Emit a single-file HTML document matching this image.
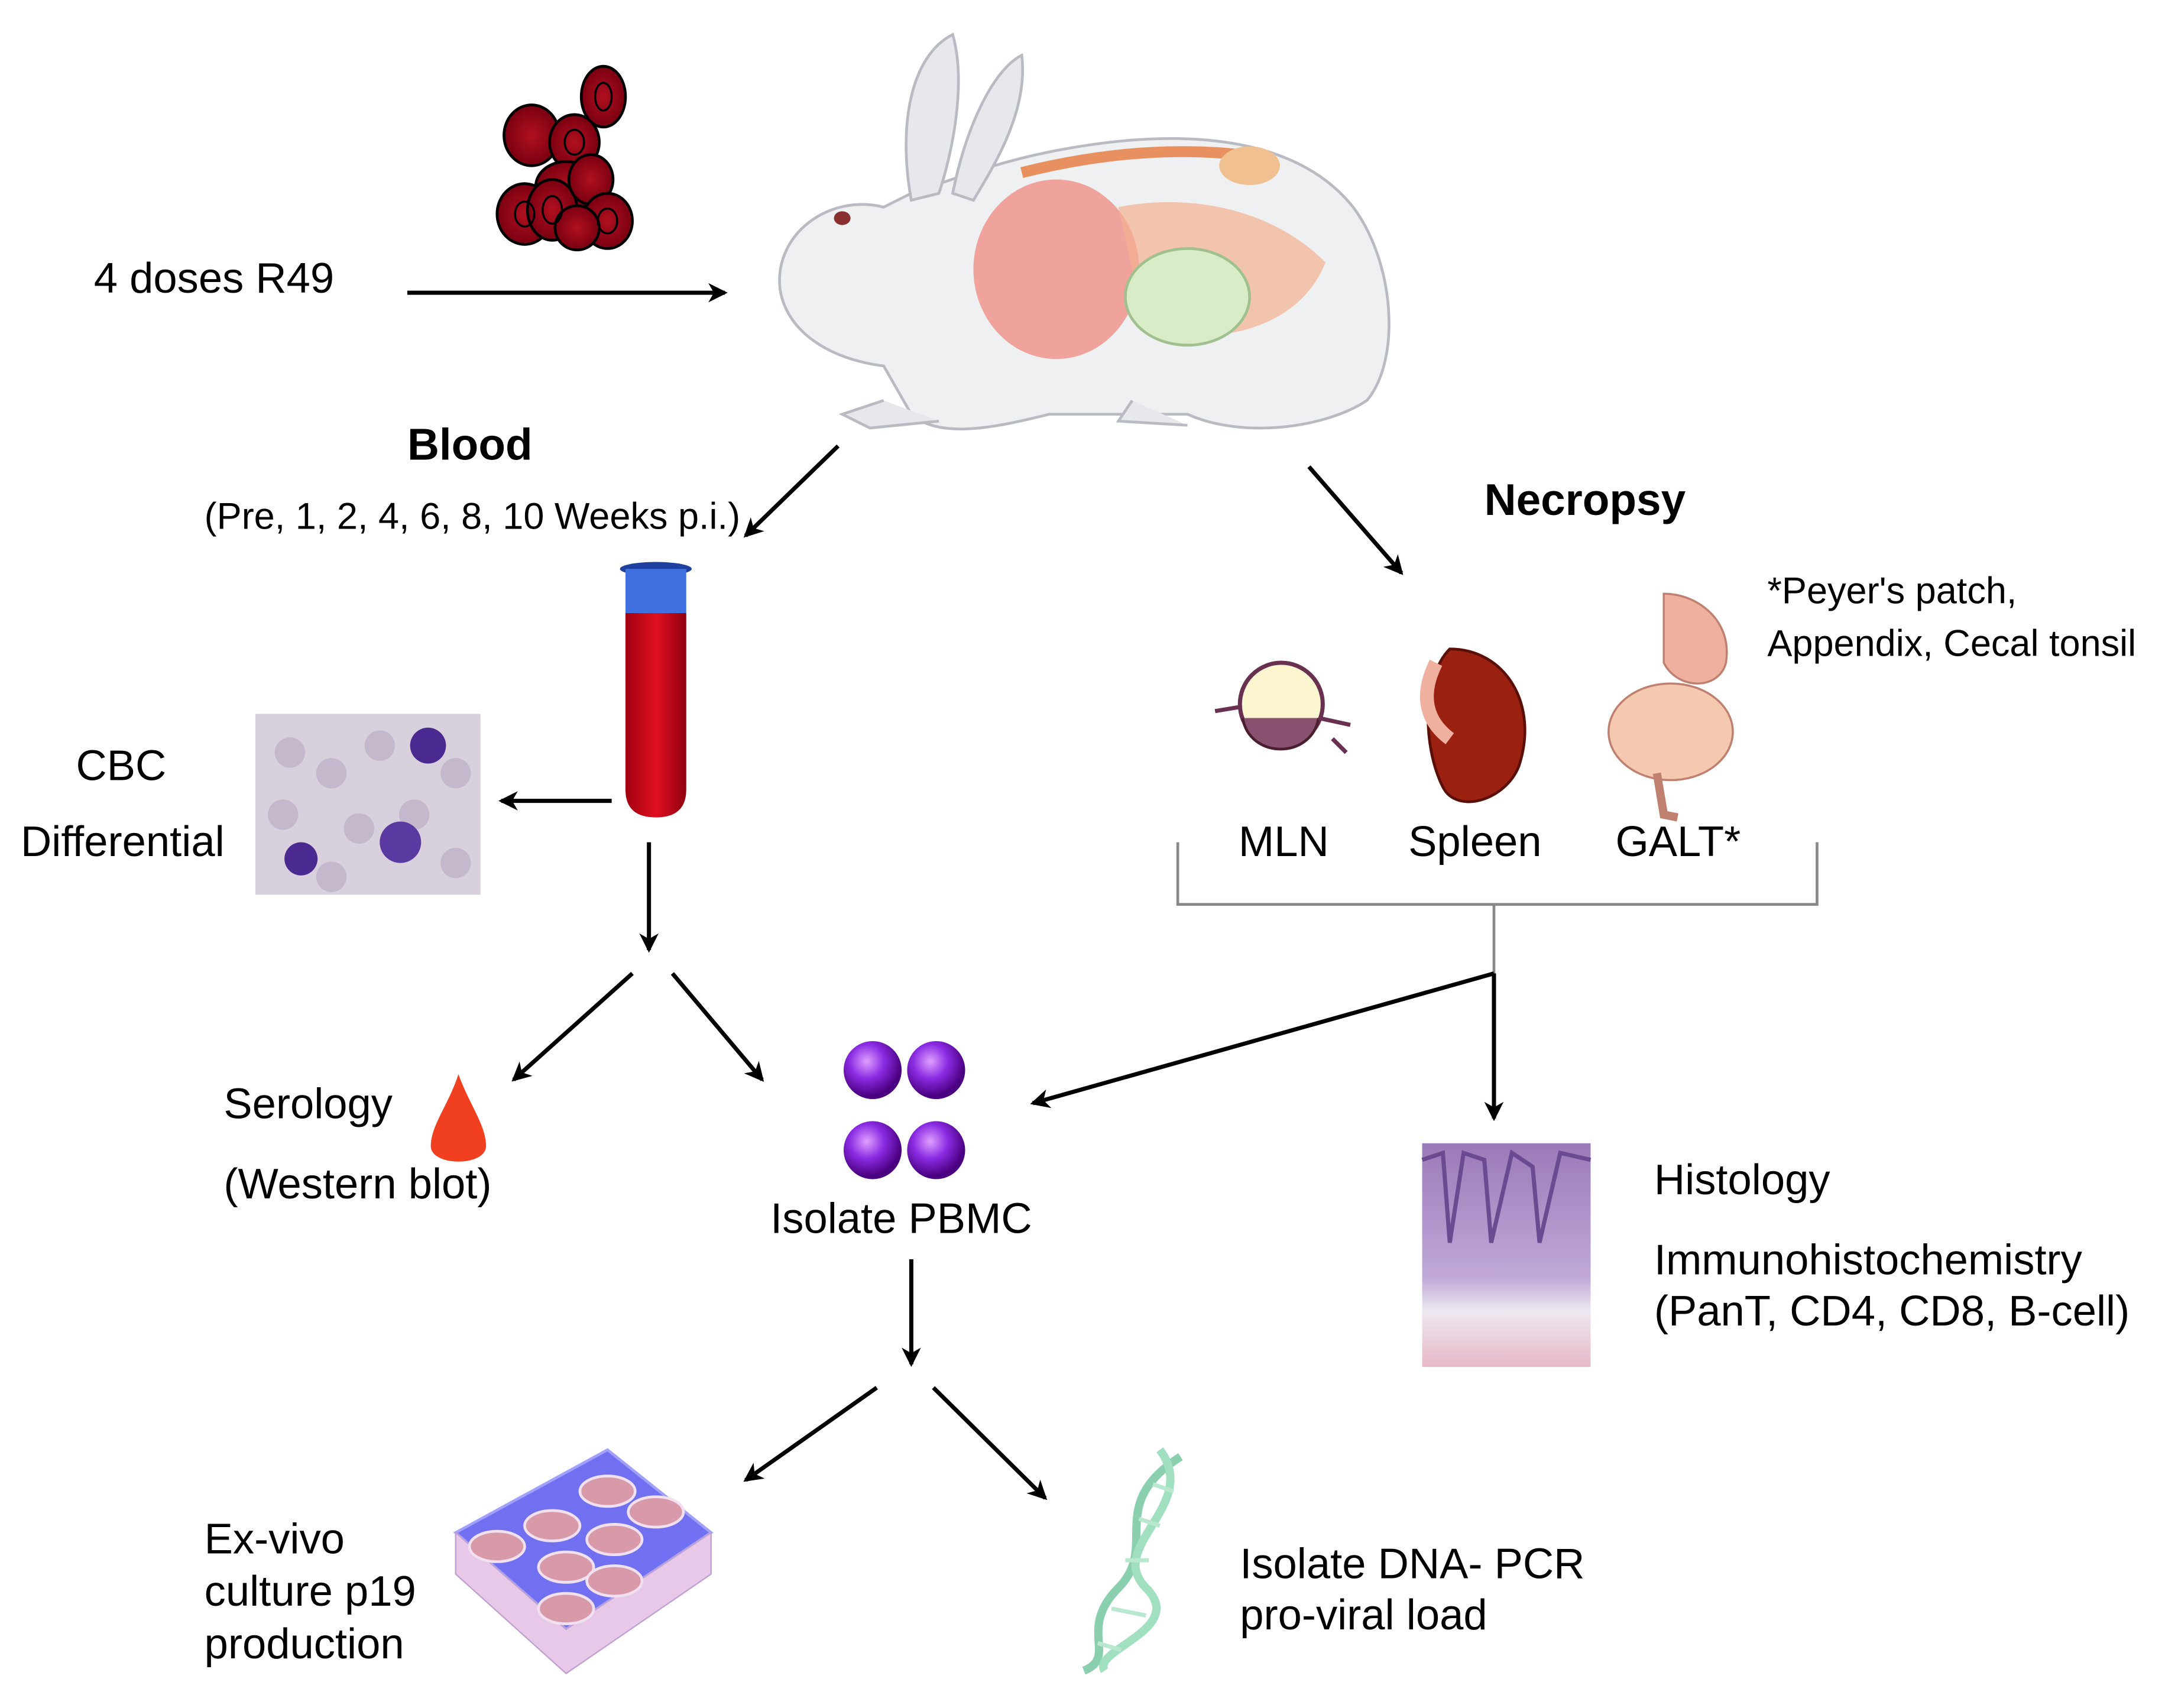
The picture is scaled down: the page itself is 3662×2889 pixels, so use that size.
<!DOCTYPE html>
<html><head><meta charset="utf-8"><style>
html,body{margin:0;padding:0;background:#fff;}
svg{display:block;}
text{font-family:"Liberation Sans",Arial,sans-serif;fill:#000;}
</style></head><body>
<svg width="3662" height="2889" viewBox="0 0 1568 1237" xmlns="http://www.w3.org/2000/svg">
<defs>
<marker id="ah" markerWidth="14" markerHeight="14" refX="12" refY="7" orient="auto" markerUnits="userSpaceOnUse">
<path d="M0,0 L14,7 L0,14 L4,7 z" fill="#000"/></marker>
<radialGradient id="rb" cx="50%" cy="50%" r="50%"><stop offset="0" stop-color="#b01020"/><stop offset="1" stop-color="#7a0010"/></radialGradient>
<radialGradient id="pb" cx="40%" cy="35%" r="60%"><stop offset="0" stop-color="#e0a0ff"/><stop offset="0.5" stop-color="#8a2be2"/><stop offset="1" stop-color="#4a0080"/></radialGradient>
<linearGradient id="tube" x1="0" x2="1"><stop offset="0" stop-color="#a00010"/><stop offset="0.5" stop-color="#e01020"/><stop offset="1" stop-color="#900010"/></linearGradient>
<linearGradient id="hist" x1="0" y1="0" x2="0" y2="1"><stop offset="0" stop-color="#9a7ab8"/><stop offset="0.6" stop-color="#c0a8d8"/><stop offset="0.75" stop-color="#ece8f0"/><stop offset="1" stop-color="#e8b8c8"/></linearGradient>
</defs>
<rect width="1568" height="1237" fill="#fff"/>

<g stroke="#000" stroke-width="2" fill="url(#rb)">
<ellipse cx="437" cy="70" rx="16" ry="22"/>
<ellipse cx="385" cy="98" rx="20" ry="22"/>
<ellipse cx="416" cy="103" rx="18" ry="20"/>
<ellipse cx="410" cy="135" rx="22" ry="18"/>
<ellipse cx="380" cy="155" rx="20" ry="22"/>
<ellipse cx="400" cy="152" rx="18" ry="22"/>
<ellipse cx="428" cy="130" rx="16" ry="18"/>
<ellipse cx="440" cy="160" rx="18" ry="20"/>
<ellipse cx="418" cy="165" rx="16" ry="16"/>
</g>
<g fill="none" stroke="#000" stroke-width="1.5">
<ellipse cx="437" cy="70" rx="6" ry="10"/><ellipse cx="416" cy="103" rx="7" ry="9"/>
<ellipse cx="400" cy="152" rx="7" ry="10"/><ellipse cx="440" cy="160" rx="7" ry="9"/>
<ellipse cx="380" cy="155" rx="7" ry="9"/>
</g>

<text x="68" y="212" font-size="31">4 doses R49</text>
<line x1="295" y1="212" x2="525" y2="212" stroke="#000" stroke-width="3" marker-end="url(#ah)"/>

<g>
<path d="M640,150 C600,140 560,170 565,210 C570,240 600,260 640,265 L660,300 C680,318 720,310 760,300 L860,300 C900,318 960,310 990,290 C1015,260 1010,190 980,150 C940,100 860,90 760,110 C720,118 690,130 660,140 Z" fill="#eef0f2" stroke="#b8bcc2" stroke-width="2"/>
<path d="M660,145 C650,90 660,40 690,25 C700,60 690,110 680,140 Z" fill="#e6e8ec" stroke="#b8bcc2" stroke-width="2"/>
<path d="M690,140 C700,90 720,50 740,40 C745,80 720,120 705,145 Z" fill="#e6e8ec" stroke="#b8bcc2" stroke-width="2"/>
<ellipse cx="610" cy="158" rx="6" ry="5" fill="#8a3030"/>
<ellipse cx="765" cy="195" rx="60" ry="65" fill="#f08a80" opacity="0.75"/>
<path d="M810,150 C860,140 920,150 960,190 C940,240 880,250 830,240 Z" fill="#f4b090" opacity="0.7"/>
<ellipse cx="860" cy="215" rx="45" ry="35" fill="#d8ecc8" stroke="#a0c090" stroke-width="2"/>
<path d="M740,125 C800,110 860,105 920,115" stroke="#e89060" stroke-width="8" fill="none"/>
<ellipse cx="905" cy="120" rx="22" ry="14" fill="#f0c090"/>
<path d="M640,290 L610,300 L630,310 L680,305" fill="#e6e8ec" stroke="#b8bcc2" stroke-width="2"/>
<path d="M820,290 L810,305 L860,308" fill="#e6e8ec" stroke="#b8bcc2" stroke-width="2"/>
</g>

<text x="295" y="333" font-size="32" font-weight="bold">Blood</text>
<text x="148" y="383" font-size="27" fill="#222">(Pre, 1, 2, 4, 6, 8, 10 Weeks p.i.)</text>
<line x1="607" y1="323" x2="540" y2="388" stroke="#000" stroke-width="3" marker-end="url(#ah)"/>
<line x1="948" y1="338" x2="1015" y2="415" stroke="#000" stroke-width="3" marker-end="url(#ah)"/>
<text x="1075" y="373" font-size="32" font-weight="bold">Necropsy</text>
<text x="1280" y="437" font-size="27" fill="#333">*Peyer's patch,</text>
<text x="1280" y="475" font-size="27" fill="#333">Appendix, Cecal tonsil</text>

<ellipse cx="475" cy="412" rx="26" ry="5" fill="#2040a0"/>
<rect x="453" y="412" width="44" height="32" fill="#4070e0"/>
<path d="M453,444 L497,444 L497,572 Q497,592 475,592 Q453,592 453,572 Z" fill="url(#tube)"/>

<g>
<circle cx="928" cy="510" r="30" fill="#fbf5d0" stroke="#6a3050" stroke-width="3"/>
<path d="M900,520 C905,550 950,550 955,520" fill="#8a5070" stroke="#4a2030" stroke-width="2"/>
<path d="M955,520 L978,525 M880,515 L898,512 M965,535 L975,545" stroke="#6a3050" stroke-width="3"/>
<path d="M1050,470 C1090,470 1115,510 1100,555 C1090,580 1055,590 1045,570 C1030,540 1030,490 1050,470 Z" fill="#9a2010" stroke="#5a1008" stroke-width="2"/>
<path d="M1040,480 C1030,500 1030,520 1050,535" stroke="#f0b0a0" stroke-width="10" fill="none"/>
<path d="M1205,430 C1230,430 1255,450 1250,480 C1245,500 1215,500 1205,480 Z" fill="#f0b0a0" stroke="#c08070" stroke-width="1.5"/>
<ellipse cx="1210" cy="530" rx="45" ry="35" fill="#f5c8b0" stroke="#c08070" stroke-width="1.5"/>
<path d="M1200,560 L1205,590 L1215,592" stroke="#c08070" stroke-width="6" fill="none"/>
</g>
<text x="897" y="620" font-size="31">MLN</text>
<text x="1020" y="620" font-size="31">Spleen</text>
<text x="1170" y="620" font-size="31">GALT*</text>
<path d="M853,610 L853,655 L1316,655 L1316,610 M1082,655 L1082,705" stroke="#888" stroke-width="2" fill="none"/>
<line x1="1082" y1="705" x2="748" y2="799" stroke="#000" stroke-width="3" marker-end="url(#ah)"/>
<line x1="1082" y1="705" x2="1082" y2="810" stroke="#000" stroke-width="3" marker-end="url(#ah)"/>

<rect x="185" y="517" width="163" height="131" fill="#d8d0dc"/>
<g fill="#c4b8cc"><circle cx="210" cy="545" r="11"/><circle cx="240" cy="560" r="11"/><circle cx="275" cy="540" r="11"/><circle cx="330" cy="560" r="11"/><circle cx="205" cy="590" r="11"/><circle cx="260" cy="600" r="11"/><circle cx="300" cy="590" r="11"/><circle cx="330" cy="625" r="11"/><circle cx="240" cy="635" r="11"/></g>
<circle cx="310" cy="540" r="13" fill="#4a2a90"/><circle cx="218" cy="622" r="12" fill="#4a2a90"/><circle cx="290" cy="610" r="15" fill="#5a3aa0"/>
<text x="55" y="565" font-size="31">CBC</text>
<text x="15" y="620" font-size="31">Differential</text>
<line x1="443" y1="580" x2="363" y2="580" stroke="#000" stroke-width="3" marker-end="url(#ah)"/>
<line x1="470" y1="610" x2="470" y2="688" stroke="#000" stroke-width="3" marker-end="url(#ah)"/>
<line x1="458" y1="705" x2="372" y2="782" stroke="#000" stroke-width="3" marker-end="url(#ah)"/>
<line x1="487" y1="705" x2="552" y2="782" stroke="#000" stroke-width="3" marker-end="url(#ah)"/>

<text x="162" y="810" font-size="31">Serology</text>
<text x="162" y="868" font-size="31">(Western blot)</text>
<path d="M332,778 C325,800 312,815 312,830 C312,845 352,845 352,830 C352,815 340,800 332,778 Z" fill="#f04020"/>

<g><circle cx="632" cy="775" r="21" fill="url(#pb)"/><circle cx="678" cy="775" r="21" fill="url(#pb)"/><circle cx="632" cy="833" r="21" fill="url(#pb)"/><circle cx="678" cy="833" r="21" fill="url(#pb)"/></g>
<text x="558" y="893" font-size="31">Isolate PBMC</text>
<line x1="660" y1="912" x2="660" y2="988" stroke="#000" stroke-width="3" marker-end="url(#ah)"/>
<line x1="635" y1="1005" x2="540" y2="1072" stroke="#000" stroke-width="3" marker-end="url(#ah)"/>
<line x1="676" y1="1005" x2="757" y2="1085" stroke="#000" stroke-width="3" marker-end="url(#ah)"/>

<rect x="1030" y="828" width="122" height="162" fill="url(#hist)"/>
<path d="M1030,840 L1045,835 L1050,900 L1060,835 L1075,840 L1080,900 L1095,835 L1110,845 L1115,900 L1130,835 L1152,840" stroke="#6a4a90" stroke-width="3" fill="none"/>
<text x="1198" y="865" font-size="31">Histology</text>
<text x="1198" y="923" font-size="31">Immunohistochemistry</text>
<text x="1198" y="960" font-size="31">(PanT, CD4, CD8, B-cell)</text>

<path d="M330,1110 L440,1050 L515,1110 L410,1180 Z" fill="#7070f0" stroke="#a0a0ff" stroke-width="2"/>
<path d="M330,1110 L330,1140 L410,1212 L515,1140 L515,1110 L410,1180 Z" fill="#e8c8e8" stroke="#c0a0d0" stroke-width="1"/>
<g fill="#d89aa8" stroke="#f0e0f0" stroke-width="2">
<ellipse cx="400" cy="1105" rx="20" ry="11"/><ellipse cx="440" cy="1080" rx="20" ry="11"/>
<ellipse cx="410" cy="1135" rx="20" ry="11"/><ellipse cx="445" cy="1115" rx="20" ry="11"/><ellipse cx="475" cy="1095" rx="20" ry="11"/>
<ellipse cx="410" cy="1165" rx="20" ry="11"/><ellipse cx="445" cy="1145" rx="20" ry="11"/><ellipse cx="360" cy="1120" rx="20" ry="11"/>
</g>
<text x="148" y="1125" font-size="31">Ex-vivo</text>
<text x="148" y="1163" font-size="31">culture p19</text>
<text x="148" y="1201" font-size="31">production</text>

<path d="M855,1055 C800,1090 840,1120 810,1150 C780,1180 810,1200 785,1210" stroke="#8ad0b0" stroke-width="6" fill="none"/>
<path d="M840,1050 C870,1090 800,1120 830,1150 C860,1180 790,1195 800,1210" stroke="#a0e0c0" stroke-width="6" fill="none"/>
<g stroke="#b8e8d0" stroke-width="3"><line x1="835" y1="1075" x2="850" y2="1080"/><line x1="825" y1="1100" x2="840" y2="1105"/><line x1="815" y1="1130" x2="832" y2="1130"/><line x1="805" y1="1165" x2="830" y2="1170"/><line x1="795" y1="1190" x2="812" y2="1195"/></g>
<text x="898" y="1143" font-size="31">Isolate DNA- PCR</text>
<text x="898" y="1180" font-size="31">pro-viral load</text>
</svg>
</body></html>
